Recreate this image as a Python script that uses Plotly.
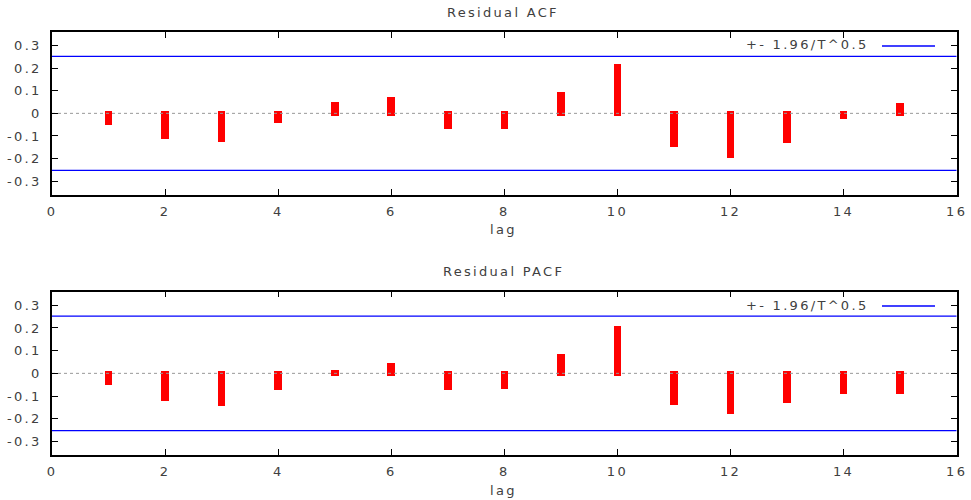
import plotly.graph_objects as go

lags = list(range(1, 16))
acf_values = [-0.038, -0.100, -0.115, -0.032, 0.037, 0.062, -0.056, -0.056,
              0.081, 0.207, -0.137, -0.186, -0.119, -0.013, 0.032]
pacf_values = [-0.040, -0.107, -0.132, -0.059, 0.006, 0.035, -0.059, -0.055,
               0.074, 0.200, -0.127, -0.166, -0.117, -0.078, -0.078]
bound = 0.2524
titles = ["Residual ACF", "Residual PACF"]
legend_label = "+- 1.96/T^0.5"
axis_title = "lag"
x_ticks = list(range(0, 17, 2))
y_ticks = [-0.3, -0.2, -0.1, 0, 0.1, 0.2, 0.3]
y_ticktext = ["-0.3", "-0.2", "-0.1", "0", "0.1", "0.2", "0.3"]

W, H = 971, 500
FONT = "DejaVu Sans"
TXT = "#404040"
FS = 13
ext = 0.012  # visual cap extension of impulses


def spaced(s):
    return '<span style="letter-spacing:2.3px">' + s + '</span>'


fig = go.Figure()


def px_x(p):
    return p / W


def px_y(p):
    return 1 - p / H


panels = [
    dict(vals=acf_values, top=32, bottom=194.7, xa="x", ya="y", title_y=12, lab_y=230, leg_y=45),
    dict(vals=pacf_values, top=291.7, bottom=455, xa="x2", ya="y2", title_y=271, lab_y=490, leg_y=305),
]
left, right = 52, 956.7

for i, p in enumerate(panels):
    vals = p["vals"]
    sgn = [1 if v >= 0 else -1 for v in vals]
    base = [-s * ext for s in sgn]
    length = [v + s * 2 * ext for v, s in zip(vals, sgn)]
    fig.add_trace(go.Scatter(x=[0, 16], y=[0, 0], mode="lines",
                             line=dict(color="#999999", width=1, dash="dot"),
                             xaxis=p["xa"], yaxis=p["ya"], showlegend=False, hoverinfo="skip"))
    fig.add_trace(go.Bar(x=lags, y=length, base=base, width=0.136,
                         marker=dict(color="#ff0000", line=dict(width=0)),
                         xaxis=p["xa"], yaxis=p["ya"], showlegend=False))
    for b in (bound, -bound):
        fig.add_trace(go.Scatter(x=[0, 16], y=[b, b], mode="lines",
                                 line=dict(color="#0000ff", width=1.3),
                                 xaxis=p["xa"], yaxis=p["ya"], showlegend=False))
    sfx = "" if i == 0 else "2"
    axis_common = dict(showline=True, linecolor="#000000", linewidth=1.5, mirror="allticks",
                       ticks="inside", ticklen=6, tickcolor="#000000", tickwidth=1.2,
                       showgrid=False, zeroline=False, automargin=False,
                       tickfont=dict(family=FONT, size=FS, color=TXT))
    fig.update_layout(**{
        "xaxis" + sfx: dict(axis_common, domain=[px_x(left), px_x(right)], range=[0, 16],
                            tickvals=x_ticks, ticktext=[spaced(str(t)) for t in x_ticks],
                            anchor="y" + sfx, ticklabelstandoff=4),
        "yaxis" + sfx: dict(axis_common, domain=[px_y(p["bottom"]), px_y(p["top"])],
                            range=[-0.36, 0.36], tickvals=y_ticks,
                            ticktext=[spaced(t) for t in y_ticktext],
                            anchor="x" + sfx, ticklabelstandoff=6),
    })
    fig.add_annotation(text=spaced(titles[i]), x=px_x(503), y=px_y(p["title_y"]), xref="paper", yref="paper",
                       showarrow=False, xanchor="center", yanchor="middle",
                       font=dict(family=FONT, size=FS, color=TXT))
    fig.add_annotation(text=spaced(axis_title), x=px_x(503), y=px_y(p["lab_y"]), xref="paper", yref="paper",
                       showarrow=False, xanchor="center", yanchor="middle",
                       font=dict(family=FONT, size=FS, color=TXT))
    fig.add_annotation(text=spaced(legend_label), x=px_x(870), y=px_y(p["leg_y"]), xref="paper", yref="paper",
                       showarrow=False, xanchor="right", yanchor="middle",
                       font=dict(family=FONT, size=FS, color=TXT))
    fig.add_shape(type="line", xref="paper", yref="paper",
                  x0=px_x(882), x1=px_x(935), y0=px_y(p["leg_y"] + 1), y1=px_y(p["leg_y"] + 1),
                  line=dict(color="#0000ff", width=1.3))

fig.update_layout(width=W, height=H, margin=dict(l=0, r=0, t=0, b=0),
                  paper_bgcolor="white", plot_bgcolor="white", bargap=0,
                  showlegend=False)

fig.write_html("out.html", config={"displayModeBar": False},
               post_script="document.body.style.margin='0';document.body.style.overflow='hidden';")
